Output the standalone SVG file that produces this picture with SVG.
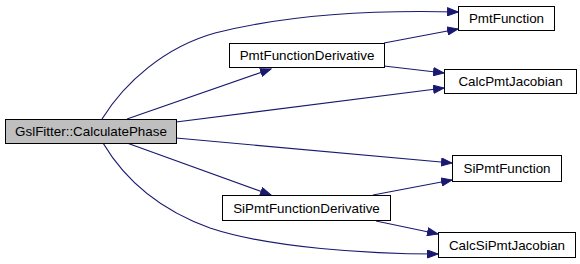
<svg xmlns="http://www.w3.org/2000/svg" width="580" height="264" viewBox="0 0 580 264">
  <style>
    .box { fill: #ffffff; stroke: #000000; stroke-width: 1; }
    .root { fill: #bfbfbf; }
    .lbl { font-family: "Liberation Sans", Arial, sans-serif; font-size: 13.4px; fill: #000000; text-anchor: middle; }
    .edge { fill: none; stroke: #191970; stroke-width: 1.2; marker-end: url(#arrow); }
  </style>
  <defs>
    <marker id="arrow" markerUnits="userSpaceOnUse" markerWidth="12" markerHeight="9" refX="11" refY="4.5" orient="auto">
      <path d="M0.5,0.5 L11,4.5 L0.5,8.5 Z" fill="#191970" stroke="#191970" stroke-width="1"/>
    </marker>
  </defs>

  <g id="edges">
    <path class="edge" d="M102,119 C125,82 165,47 215,33 C290,14 380,10 458,12"/>
    <path class="edge" d="M127,119 L271,69"/>
    <path class="edge" d="M176,122 L444,88"/>
    <path class="edge" d="M176,138 L452,163"/>
    <path class="edge" d="M127,143 L271,195"/>
    <path class="edge" d="M103,143 C125,180 160,210 210,228 C270,248 370,254 438,254"/>
    <path class="edge" d="M384,43 L458,29"/>
    <path class="edge" d="M384,66 L444,73"/>
    <path class="edge" d="M373,195 L452,180"/>
    <path class="edge" d="M376,221 L438,234"/>
  </g>

  <g id="node-calculate-phase">
    <rect class="box root" x="5.5" y="119.5" width="171" height="24"/>
    <text class="lbl" x="91" y="136">GslFitter::CalculatePhase</text>
  </g>
  <g id="node-pmt-function-derivative">
    <rect class="box" x="229.5" y="43.5" width="155" height="24"/>
    <text class="lbl" x="307" y="60">PmtFunctionDerivative</text>
  </g>
  <g id="node-pmt-function">
    <rect class="box" x="458.5" y="6.5" width="96" height="24"/>
    <text class="lbl" x="506.5" y="23">PmtFunction</text>
  </g>
  <g id="node-calc-pmt-jacobian">
    <rect class="box" x="444.5" y="69.5" width="132" height="24"/>
    <text class="lbl" x="510.5" y="86">CalcPmtJacobian</text>
  </g>
  <g id="node-sipmt-function-derivative">
    <rect class="box" x="222.5" y="195.5" width="168" height="25"/>
    <text class="lbl" x="306.5" y="212.5">SiPmtFunctionDerivative</text>
  </g>
  <g id="node-sipmt-function">
    <rect class="box" x="452.5" y="155.5" width="109" height="26"/>
    <text class="lbl" x="507" y="173">SiPmtFunction</text>
  </g>
  <g id="node-calc-sipmt-jacobian">
    <rect class="box" x="438.5" y="232.5" width="137" height="25"/>
    <text class="lbl" x="507" y="249.5">CalcSiPmtJacobian</text>
  </g>
</svg>
